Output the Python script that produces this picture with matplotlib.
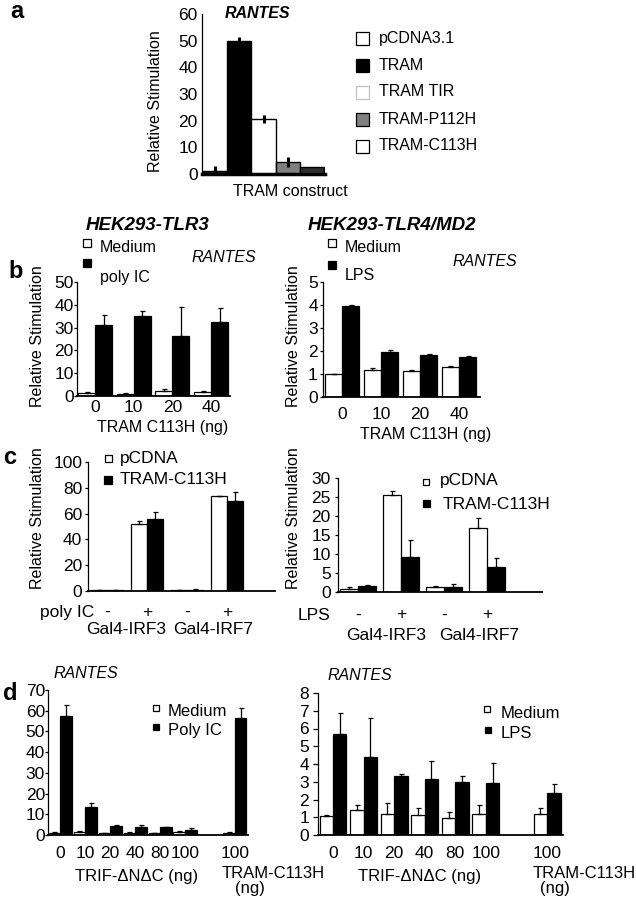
import matplotlib
matplotlib.use("Agg")
import numpy as np
import matplotlib.pyplot as plt
from matplotlib.patches import Rectangle

plt.rcParams['font.family'] = ['Liberation Sans', 'DejaVu Sans']
plt.rcParams['font.size'] = 11.5

W, H = 636, 899

# --- panel a: RANTES, TRAM constructs ---
a_names = ['pCDNA3.1', 'TRAM', 'TRAM TIR', 'TRAM-P112H', 'TRAM-C113H']
a_vals = [1.0, 50.0, 20.5, 4.5, 2.5]
a_err = [2.0, 1.5, 1.5, 2.0, 0.0]

# --- panel b: HEK293-TLR3 (poly IC) ---
b1_doses = ['0', '10', '20', '40']
b1_medium = [1.5, 1.0, 2.0, 1.8]
b1_medium_err = [0.3, 0.2, 1.0, 0.6]
b1_stim = [31.0, 35.0, 26.5, 32.5]
b1_stim_err = [4.5, 2.2, 12.5, 6.0]

# --- panel b: HEK293-TLR4/MD2 (LPS) ---
b2_doses = ['0', '10', '20', '40']
b2_medium = [1.0, 1.17, 1.13, 1.3]
b2_medium_err = [0.02, 0.07, 0.03, 0.05]
b2_stim = [3.95, 1.95, 1.83, 1.72]
b2_stim_err = [0.05, 0.08, 0.05, 0.06]

# --- panel c: Gal4-IRF reporters ---
c_treat = ['-', '+', '-', '+']
c_groups = ['Gal4-IRF3', 'Gal4-IRF7']
c1_pcdna = [0.8, 52.0, 0.8, 74.0]
c1_pcdna_err = [0.0, 2.0, 0.3, 0.0]
c1_tram = [0.8, 56.0, 0.8, 70.0]
c1_tram_err = [0.0, 5.0, 0.5, 7.0]

c2_pcdna = [0.8, 25.5, 1.3, 16.8]
c2_pcdna_err = [0.4, 1.0, 0.2, 2.8]
c2_tram = [1.7, 9.2, 1.3, 6.6]
c2_tram_err = [0.2, 4.6, 0.8, 2.3]

# --- panel d: TRIF-dNdC titration ---
d_doses = ['0', '10', '20', '40', '80', '100', '100']
d_pos = [0, 1, 2, 3, 4, 5, 7]
d1_medium = [1.2, 1.5, 1.0, 1.0, 0.8, 1.5, 1.2]
d1_medium_err = [0.2, 0.2, 0.2, 0.3, 0.3, 0.3, 0.2]
d1_stim = [57.5, 13.5, 4.4, 4.0, 3.8, 2.5, 56.5]
d1_stim_err = [5.5, 2.0, 0.3, 1.0, 0.3, 1.0, 5.0]

d2_medium = [1.05, 1.4, 1.2, 1.15, 0.95, 1.2, 1.2]
d2_medium_err = [0.1, 0.3, 0.6, 0.35, 0.35, 0.5, 0.3]
d2_stim = [5.7, 4.4, 3.35, 3.15, 3.0, 2.95, 2.35]
d2_stim_err = [1.2, 2.2, 0.07, 1.0, 0.35, 1.1, 0.5]

TICK_FS = 12.5

fig = plt.figure(figsize=(W / 100, H / 100), dpi=100)


def px_rect(x0, y0, x1, y1):
    return [x0 / W, 1 - y1 / H, (x1 - x0) / W, (y1 - y0) / H]


def ftext(x, y, s, **kw):
    kw.setdefault('va', 'center')
    fig.text(x / W, 1 - y / H, s, **kw)


def fsquare(x, y, size, fc, ec='black'):
    fig.add_artist(Rectangle(((x - size / 2) / W, 1 - (y + size / 2) / H),
                             size / W, size / H, transform=fig.transFigure,
                             fc=fc, ec=ec, lw=0.9))


def xlab(ax, x, s, dy):
    # label under the axis, dy in pixels
    ax.annotate(s, xy=(x, 0), xycoords=('data', 'axes fraction'),
                xytext=(0, -dy * 0.72), textcoords='offset points',
                ha='center', va='center', fontsize=TICK_FS)


def style(ax, ymax, step, ticklen=2.2, pad=1.0):
    ax.spines[['top', 'right']].set_visible(False)
    ax.spines['left'].set_linewidth(0.9)
    ax.spines['bottom'].set_linewidth(1.3)
    ax.set_ylim(0, ymax)
    ax.set_yticks(np.arange(0, ymax + step / 2, step))
    ax.tick_params(axis='y', length=ticklen, width=0.9, pad=pad, labelsize=TICK_FS)
    ax.set_xticks([])


def pair_bars(ax, pos, v1, e1, v2, e2, width):
    pos = np.asarray(pos, float)
    zeros = np.zeros(len(pos))
    for off, v, e, c in [(-width / 2, v1, e1, 'white'), (width / 2, v2, e2, 'black')]:
        ax.bar(pos + off, v, width, color=c, edgecolor='black', lw=0.9, zorder=2)
        ax.errorbar(pos + off, v, yerr=[zeros, e], fmt='none', ecolor='black',
                    elinewidth=0.9, capsize=1.8, capthick=0.9, zorder=3)


# ---------------- a ----------------
ax = fig.add_axes(px_rect(202, 14, 325, 174))
a_colors = ['#1e1e1e', 'black', 'white', '#808080', '#2e2e2e']
xa = np.arange(len(a_vals))
ax.bar(xa, a_vals, 1.0, color=a_colors, edgecolor='black', lw=1.0, zorder=2)
ax.errorbar(xa, a_vals, yerr=a_err, fmt='none', ecolor='black', elinewidth=2.2, zorder=3)
style(ax, 60, 10, ticklen=0, pad=3)
ax.spines['bottom'].set_linewidth(2.5)
ax.set_xlim(-0.55, 4.55)
ftext(17, 12, 'a', fontsize=17, fontweight='bold', ha='center')
ftext(155, 101, 'Relative Stimulation', rotation=90, ha='center')
ftext(257, 14, 'RANTES', fontweight='bold', fontstyle='italic', ha='center')
ftext(290, 191, 'TRAM construct', ha='center')
a_leg_colors = ['white', 'black', 'white', '#808080', 'white']
a_leg_edges = ['black', 'black', '#c0c0c0', 'black', 'black']
for i, name in enumerate(a_names):
    y = 38 + i * 27
    fsquare(362, y, 13, a_leg_colors[i], a_leg_edges[i])
    ftext(379, y, name)

# ---------------- b left ----------------
ax = fig.add_axes(px_rect(77, 282, 230, 396))
pos = np.arange(len(b1_doses))
pair_bars(ax, pos, b1_medium, b1_medium_err, b1_stim, b1_stim_err, 0.44)
style(ax, 50, 10, ticklen=2.2, pad=0.3)
ax.set_xlim(-0.47, 3.49)
for x, s in zip(pos, b1_doses):
    xlab(ax, x, s, 12)
ftext(16, 272, 'b', fontsize=17, fontweight='bold', ha='center')
ftext(148, 225, 'HEK293-TLR3', fontsize=13.5, fontweight='bold', fontstyle='italic', ha='center')
ftext(38, 336, 'Relative Stimulation', rotation=90, ha='center')
ftext(163, 427, 'TRAM C113H (ng)', ha='center')
ftext(224, 257, 'RANTES', fontstyle='italic', ha='center')
fsquare(87, 243, 8, 'white')
ftext(100, 248, 'Medium')
fsquare(87, 263, 8, 'black')
ftext(100, 277, 'poly IC')

# ---------------- b right ----------------
ax = fig.add_axes(px_rect(323, 282, 480, 397))
pos = np.arange(len(b2_doses))
pair_bars(ax, pos, b2_medium, b2_medium_err, b2_stim, b2_stim_err, 0.44)
style(ax, 5, 1, ticklen=2.2, pad=1.5)
ax.set_xlim(-0.49, 3.54)
for x, s in zip(pos, b2_doses):
    xlab(ax, x, s, 18)
ftext(392, 225, 'HEK293-TLR4/MD2', fontsize=13.5, fontweight='bold', fontstyle='italic', ha='center')
ftext(293, 336, 'Relative Stimulation', rotation=90, ha='center')
ftext(426, 435, 'TRAM C113H (ng)', ha='center')
ftext(485, 262, 'RANTES', fontstyle='italic', ha='center')
fsquare(332, 243, 8, 'white')
ftext(345, 248, 'Medium')
fsquare(332, 265, 8, 'black')
ftext(345, 276, 'LPS')

# ---------------- c left ----------------
ax = fig.add_axes(px_rect(88, 462, 275, 591))
pos = np.arange(len(c_treat))
pair_bars(ax, pos, c1_pcdna, c1_pcdna_err, c1_tram, c1_tram_err, 0.4)
style(ax, 100, 20, ticklen=2.2, pad=2)
ax.set_xlim(-0.475, 4.2)
for x, s in zip(pos, c_treat):
    xlab(ax, x, s, 21)
ftext(10, 457, 'c', fontsize=17, fontweight='bold', ha='center')
ftext(38, 518, 'Relative Stimulation', rotation=90, ha='center')
ftext(67, 612, 'poly IC', ha='center', fontsize=TICK_FS)
ftext(126, 630, c_groups[0], ha='center', fontsize=TICK_FS)
ftext(213, 630, c_groups[1], ha='center', fontsize=TICK_FS)
fsquare(108, 459, 7, 'white')
ftext(120, 458, 'pCDNA', fontsize=TICK_FS)
fsquare(108, 480, 7.5, 'black')
ftext(120, 480, 'TRAM-C113H', fontsize=TICK_FS)

# ---------------- c right ----------------
ax = fig.add_axes(px_rect(338, 478, 542, 592))
pos = np.arange(len(c_treat))
pair_bars(ax, pos, c2_pcdna, c2_pcdna_err, c2_tram, c2_tram_err, 0.42)
style(ax, 30, 5, ticklen=2.2, pad=3)
ax.set_xlim(-0.47, 4.28)
for x, s in zip(pos, c_treat):
    xlab(ax, x, s, 23)
ftext(293, 518, 'Relative Stimulation', rotation=90, ha='center')
ftext(314, 615, 'LPS', ha='center', fontsize=TICK_FS)
ftext(386, 635, c_groups[0], ha='center', fontsize=TICK_FS)
ftext(479, 635, c_groups[1], ha='center', fontsize=TICK_FS)
fsquare(426, 482, 6.5, 'white')
ftext(440, 480, 'pCDNA', fontsize=TICK_FS)
fsquare(426, 503, 7, 'black')
ftext(443, 504, 'TRAM-C113H', fontsize=TICK_FS)

# ---------------- d left ----------------
ax = fig.add_axes(px_rect(48, 690, 248, 835))
pair_bars(ax, d_pos, d1_medium, d1_medium_err, d1_stim, d1_stim_err, 0.46)
style(ax, 70, 10, ticklen=2.0, pad=0.2)
ax.set_xlim(-0.48, 7.52)
for x, s in zip(d_pos, d_doses):
    xlab(ax, x, s, 18)
ftext(10, 693, 'd', fontsize=17, fontweight='bold', ha='center')
ftext(86, 673, 'RANTES', fontstyle='italic', ha='center')
ftext(137, 877, 'TRIF-\u0394N\u0394C (ng)', ha='center', fontsize=12)
ftext(222, 874, 'TRAM-C113H', ha='left', fontsize=12)
ftext(250, 888, '(ng)', ha='center', fontsize=12)
fsquare(156, 708, 5.5, 'white')
ftext(168, 712, 'Medium', fontsize=12)
fsquare(156, 727, 6, 'black')
ftext(168, 730, 'Poly IC', fontsize=12)

# ---------------- d right ----------------
ax = fig.add_axes(px_rect(318, 693, 563, 835))
pair_bars(ax, d_pos, d2_medium, d2_medium_err, d2_stim, d2_stim_err, 0.44)
style(ax, 8, 1, ticklen=3.5, pad=3)
ax.set_xlim(-0.49, 7.52)
for x, s in zip(d_pos, d_doses):
    xlab(ax, x, s, 18)
ftext(360, 675, 'RANTES', fontstyle='italic', ha='center')
ftext(420, 877, 'TRIF-\u0394N\u0394C (ng)', ha='center', fontsize=12)
ftext(533, 873, 'TRAM-C113H', ha='left', fontsize=12)
ftext(555, 888, '(ng)', ha='center', fontsize=12)
fsquare(487, 709, 5.5, 'white')
ftext(501, 713, 'Medium', fontsize=12)
fsquare(488, 730, 6, 'black')
ftext(501, 733, 'LPS', fontsize=12)

fig.savefig('out.png', dpi=100)
